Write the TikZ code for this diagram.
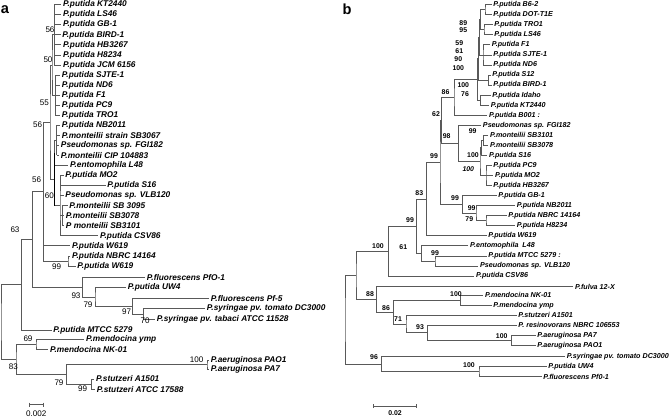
\documentclass[tikz,border=0pt]{standalone}
\usepackage{fontspec}
\newfontfamily\treefont{Liberation Sans}
\usepackage{tikz}
\usetikzlibrary{calc}

\tikzset{
  tip/.style={font=\treefont\fontsize{7.1}{8}\selectfont\bfseries\itshape, anchor=west, inner sep=1.5pt},
  tipb/.style={font=\treefont\fontsize{6.1}{7}\selectfont\bfseries\itshape, anchor=west, inner sep=1.5pt},
  boot/.style={font=\treefont\fontsize{6.9}{7}\selectfont, inner sep=0pt},
  bootb/.style={font=\treefont\fontsize{5.9}{7}\selectfont\bfseries, inner sep=0pt},
  br/.style={draw=black!65, line width=0.7pt},
}

\begin{document}
\begin{tikzpicture}[x=0.03cm, y=-0.03cm]
    \useasboundingbox (0,0) rectangle (672,418);
    \node [font=\treefont\fontsize{12.5}{13}\selectfont\bfseries] (pa) at (5,10) {a};
    \node [font=\treefont\fontsize{12.5}{13}\selectfont\bfseries] (pb) at (347,9) {b};

    % tree a, leaves
    \node [tip] (a1) at (61.2,4.7) {P.putida KT2440};
    \node [tip] (a2) at (61.2,14.75) {P.putida LS46};
    \node [tip] (a3) at (61.2,24.8) {P.putida GB-1};
    \node [tip] (a4) at (60.5,34.85) {P.putida BIRD-1};
    \node [tip] (a5) at (61.2,44.9) {P.putida HB3267};
    \node [tip] (a6) at (61.2,54.95) {P.putida H8234};
    \node [tip] (a7) at (61.2,65) {P.putida JCM 6156};
    \node [tip] (a8) at (60,75.05) {P.putida SJTE-1};
    \node [tip] (a9) at (60,85.1) {P.putida ND6};
    \node [tip] (a10) at (60,95.15) {P.putida F1};
    \node [tip] (a11) at (60,105.2) {P.putida PC9};
    \node [tip] (a12) at (60,115.25) {P.putida TRO1};
    \node [tip] (a13) at (60,125.3) {P.putida NB2011};
    \node [tip] (a14) at (60,135.35) {P.monteilii strain SB3067};
    \node [tip] (a15) at (59,145.4) {Pseudomonas sp. FGI182};
    \node [tip] (a16) at (59,155.45) {P.monteilii CIP 104883};
    \node [tip] (a17) at (68.2,165.5) {P.entomophila L48};
    \node [tip] (a18) at (63.5,175.55) {P.putida MO2};
    \node [tip] (a19) at (105.5,185.6) {P.putida S16};
    \node [tip] (a20) at (63.5,195.65) {Pseudomonas sp. VLB120};
    \node [tip] (a21) at (67.5,205.7) {P.monteilii SB 3095};
    \node [tip] (a22) at (64,215.75) {P.monteilii SB3078};
    \node [tip] (a23) at (64,225.8) {P monteilii SB3101};
    \node [tip] (a24) at (98.2,235.85) {P.putida CSV86};
    \node [tip] (a25) at (70.2,245.9) {P.putida W619};
    \node [tip] (a26) at (70.2,255.95) {P.putida NBRC 14164};
    \node [tip] (a27) at (75.5,266) {P.putida W619};
    \node [tip] (a28) at (145,277.3) {P.fluorescens PfO-1};
    \node [tip] (a29) at (126,287.3) {P.putida UW4};
    \node [tip] (a30) at (209,298.7) {P.fluorescens Pf-5};
    \node [tip] (a31) at (205,308.7) {P.syringae pv. tomato DC3000};
    \node [tip] (a32) at (155,319.3) {P.syringae pv. tabaci ATCC 11528};
    \node [tip] (a33) at (51.5,330) {P.putida MTCC 5279};
    \node [tip] (a34) at (84.2,339.3) {P.mendocina ymp};
    \node [tip] (a35) at (48.2,349.3) {P.mendocina NK-01};
    \node [tip] (a36) at (209,360) {P.aeruginosa PAO1};
    \node [tip] (a37) at (209,369.3) {P.aeruginosa PA7};
    \node [tip] (a38) at (94.2,379) {P.stutzeri A1501};
    \node [tip] (a39) at (95,389.3) {P.stutzeri ATCC 17588};

    % tree a, inner nodes
    \coordinate (aKT) at (54.3,34.85);
    \coordinate (aSJ) at (55.3,95.15);
    \coordinate (a50) at (52,65);
    \coordinate (aNB) at (56.5,140.4);
    \coordinate (aL) at (54.3,153);
    \coordinate (aSB) at (62,215.75);
    \coordinate (aMO) at (60,205.7);
    \coordinate (a60) at (54.3,179.4);
    \coordinate (a55) at (50,122.2);
    \coordinate (aW) at (68,261);
    \coordinate (a56b) at (43.3,191.6);
    \coordinate (aUW) at (95,297);
    \coordinate (a97) at (132.7,306.4);
    \coordinate (a70) at (143.3,314);
    \coordinate (a93) at (82.7,287.2);
    \coordinate (a56) at (32.3,239.4);
    \coordinate (a63) at (21.7,284.7);
    \coordinate (a69) at (36,344.3);
    \coordinate (aPA) at (207,364.7);
    \coordinate (aST) at (91.7,384.2);
    \coordinate (a79) at (66.7,374.4);
    \coordinate (a83) at (16,359.4);
    \coordinate (aroot) at (1,322);

    \foreach \i in {1,...,7} {\draw [br] (aKT |- a\i.west) -- (a\i.west);}
    \draw [br] (aKT |- a1.west) -- (aKT |- a7.west);
    \foreach \i in {8,...,12} {\draw [br] (aSJ |- a\i.west) -- (a\i.west);}
    \draw [br] (aSJ |- a8.west) -- (aSJ |- a12.west);
    \draw [br] (aKT) -| (a50) |- (aSJ);
    \foreach \i in {13,...,16} {\draw [br] (aNB |- a\i.west) -- (a\i.west);}
    \draw [br] (aNB |- a13.west) -- (aNB |- a16.west);
    \draw [br] (aNB) -| (aL) |- (a17.west);
    \foreach \i in {21,22,23} {\draw [br] (aSB |- a\i.west) -- (a\i.west);}
    \draw [br] (aSB |- a21.west) -- (aSB |- a23.west);
    \draw [br] (a18.west) -| (aMO) |- (a24.west);
    \draw [br] (aMO |- a19.west) -- (a19.west);
    \draw [br] (aMO |- a20.west) -- (a20.west);
    \draw [br] (aMO |- aSB) -- (aSB);
    \draw [br] (aL) -| (a60) |- (aMO);
    \draw [black, line width=1.1pt] (a60 |- aL) -- (a60 |- aMO);
    \draw [br] (a50) -| (a55) |- (a60);
    \draw [br] (a26.west) -| (aW) |- (a27.west);
    \draw [br] (a55) -| (a56b) |- (aW);
    \draw [br] (a56b |- a25.west) -- (a25.west);
    \draw [br] (a31.west) -| (a70) |- (a32.west);
    \draw [br] (a30.west) -| (a97) |- (a70);
    \draw [br] (a29.west) -| (aUW) |- (a97);
    \draw [br] (a28.west) -| (a93) |- (aUW);
    \draw [br] (a56b) -| (a56) |- (a93);
    \draw [br] (a56) -| (a63) |- (a33.west);
    \draw [br] (a34.west) -| (a69) |- (a35.west);
    \draw [br] (a36.west) -| (aPA) |- (a37.west);
    \draw [br] (a38.west) -| (aST) |- (a39.west);
    \draw [br] (aPA) -| (a79) |- (aST);
    \draw [br] (a69) -| (a83) |- (a79);
    \draw [br] (a63) -| (aroot) |- (a83);

    % bootstrap values a
    \node [boot] at (50,29.3) {56};
    \node [boot] at (48,60) {50};
    \node [boot] at (44.3,103) {55};
    \node [boot] at (37.7,125) {56};
    \node [boot] at (36.7,180) {56};
    \node [boot] at (49.3,196) {60};
    \node [boot] at (15,230) {63};
    \node [boot] at (56.7,266.7) {99};
    \node [boot] at (76,296) {93};
    \node [boot] at (88,305) {79};
    \node [boot] at (126.7,311.7) {97};
    \node [boot] at (145,321) {70};
    \node [boot] at (28,339) {69};
    \node [boot] at (13.3,366.7) {83};
    \node [boot] at (196.7,360) {100};
    \node [boot] at (59,382.7) {79};
    \node [boot] at (82.7,389) {99};

    % scale a
    \coordinate (sa1) at (29.3,404.7);
    \coordinate (sa2) at (43.3,404.7);
    \draw [br] (sa1) -- (sa2);
    \draw [br] ($(sa1)+(0,-2)$) -- ($(sa1)+(0,2)$);
    \draw [br] ($(sa2)+(0,-2)$) -- ($(sa2)+(0,2)$);
    \node [boot] (sca) at (36.3,413.3) {0.002};

    % tree b, leaves
    \node [tipb] (b1) at (491.5,4.7) {P.putida B6-2};
    \node [tipb] (b2) at (491.5,14.75) {P.putida DOT-T1E};
    \node [tipb] (b3) at (492.5,24.8) {P.putida TRO1};
    \node [tipb] (b4) at (492.5,34.85) {P.putida LS46};
    \node [tipb] (b5) at (490,44.9) {P.putida F1};
    \node [tipb] (b6) at (491.5,54.95) {P.putida SJTE-1};
    \node [tipb] (b7) at (491.5,65) {P.putida ND6};
    \node [tipb] (b8) at (490.5,75.05) {P.putida S12};
    \node [tipb] (b9) at (491.5,85.1) {P.putida BIRD-1};
    \node [tipb] (b10) at (490.5,95.15) {P.putida Idaho};
    \node [tipb] (b11) at (489,105.2) {P.putida KT2440};
    \node [tipb] (b12) at (487.2,115.25) {P.putida B001 :};
    \node [tipb] (b13) at (481,125.3) {Pseudomonas sp. FGI182};
    \node [tipb] (b14) at (488.2,135.35) {P.monteilii SB3101};
    \node [tipb] (b15) at (488.2,145.4) {P.monteilii SB3078};
    \node [tipb] (b16) at (487.2,155.45) {P.putida S16};
    \node [tipb] (b17) at (491.5,165.5) {P.putida PC9};
    \node [tipb] (b18) at (493.2,175.55) {P.putida MO2};
    \node [tipb] (b19) at (491.5,185.6) {P.putida HB3267};
    \node [tipb] (b20) at (496.5,195.65) {P.putida GB-1};
    \node [tipb] (b21) at (515,205.7) {P.putida NB2011};
    \node [tipb] (b22) at (506.5,215.75) {P.putida NBRC 14164};
    \node [tipb] (b23) at (515,225.8) {P.putida H8234};
    \node [tipb] (b24) at (486.5,235.85) {P.putida W619};
    \node [tipb] (b25) at (468.2,245.9) {P.entomophila\ \ L48};
    \node [tipb] (b26) at (486.5,255.95) {P.putida MTCC 5279 :};
    \node [tipb] (b27) at (478.2,266) {Pseudomonas sp. VLB120};
    \node [tipb] (b28) at (474.2,276.05) {P.putida CSV86};
    \node [tipb] (b29) at (573.2,286.7) {P.fulva 12-X};
    \node [tipb] (b30) at (483.2,295.3) {P.mendocina NK-01};
    \node [tipb] (b31) at (491.5,305.3) {P.mendocina ymp};
    \node [tipb] (b32) at (516.5,315.3) {P.stutzeri A1501};
    \node [tipb] (b33) at (516.5,325.3) {P. resinovorans NBRC 106553};
    \node [tipb] (b34) at (535.5,335.3) {P.aeruginosa PA7};
    \node [tipb] (b35) at (535.5,345.3) {P.aeruginosa PAO1};
    \node [tipb] (b36) at (565,356.7) {P.syringae pv. tomato DC3000};
    \node [tipb] (b37) at (546.5,366.7) {P.putida UW4};
    \node [tipb] (b38) at (541.5,376.7) {P.fluorescens Pf0-1};

    % tree b, inner nodes
    \coordinate (bB6) at (485,9.7);
    \coordinate (bTR) at (484,29.8);
    \coordinate (bF1) at (483,54.95);
    \coordinate (bS12) at (488.3,80);
    \coordinate (b95) at (480.5,19.8);
    \coordinate (b59) at (479.5,37.4);
    \coordinate (b90) at (478.5,58.7);
    \coordinate (bID) at (480.7,100.2);
    \coordinate (b100) at (477.3,79.4);
    \coordinate (b86) at (454,97.3);
    \coordinate (bMT) at (483.5,140.4);
    \coordinate (bS16) at (481.5,147.9);
    \coordinate (bPC) at (486,175.55);
    \coordinate (bA) at (480,161.7);
    \coordinate (b98) at (458.3,143.5);
    \coordinate (b62) at (441.7,120.4);
    \coordinate (b79) at (486,220.8);
    \coordinate (bNB) at (476,213.2);
    \coordinate (bGB) at (462.3,204.4);
    \coordinate (b99d) at (440,162.4);
    \coordinate (b83) at (426.7,199.1);
    \coordinate (bMC) at (435,261);
    \coordinate (b61) at (421.7,253.4);
    \coordinate (b99c) at (416.7,226.3);
    \coordinate (bC) at (388.3,251.2);
    \coordinate (bAE) at (511.7,340.3);
    \coordinate (b93) at (427.3,332.8);
    \coordinate (b71) at (406,324);
    \coordinate (bMD) at (460.7,300.3);
    \coordinate (b86b) at (393.3,312.2);
    \coordinate (b88) at (376.7,299.4);
    \coordinate (bX) at (356,275.3);
    \coordinate (bUW) at (479,371.7);
    \coordinate (b96) at (381.7,364.2);
    \coordinate (broot) at (345,319.8);

    \draw [br] (b1.west) -| (bB6) |- (b2.west);
    \draw [br] (b3.west) -| (bTR) |- (b4.west);
    \draw [br] (b5.west) -| (bF1) |- (b7.west);
    \draw [br] (bF1 |- b6.west) -- (b6.west);
    \draw [br] (b8.west) -| (bS12) |- (b9.west);
    \draw [br] (bB6) -| (b95) |- (bTR);
    \draw [br] (b95) -| (b59) |- (bF1);
    \draw [br] (b59) -| (b90) |- (bS12);
    \draw [br] (b10.west) -| (bID) |- (b11.west);
    \draw [br] (b90) -| (b100) |- (bID);
    \draw [br] (b100) -| (b86) |- (b12.west);
    \draw [br] (b14.west) -| (bMT) |- (b15.west);
    \draw [br] (bMT) -| (bS16) |- (b16.west);
    \draw [br] (b17.west) -| (bPC) |- (b19.west);
    \draw [br] (bPC |- b18.west) -- (b18.west);
    \draw [br] (bS16) -| (bA) |- (bPC);
    \draw [br] (b13.west) -| (b98) |- (bA);
    \draw [br] (b86) -| (b62) |- (b98);
    \draw [br] (b22.west) -| (b79) |- (b23.west);
    \draw [br] (b21.west) -| (bNB) |- (b79);
    \draw [br] (b20.west) -| (bGB) |- (bNB);
    \draw [br] (b62) -| (b99d) |- (bGB);
    \draw [br] (b99d) -| (b83) |- (b24.west);
    \draw [br] (b26.west) -| (bMC) |- (b27.west);
    \draw [br] (b25.west) -| (b61) |- (bMC);
    \draw [br] (b83) -| (b99c) |- (b61);
    \draw [br] (b99c) -| (bC) |- (b28.west);
    \draw [br] (b34.west) -| (bAE) |- (b35.west);
    \draw [br] (b33.west) -| (b93) |- (bAE);
    \draw [br] (b32.west) -| (b71) |- (b93);
    \draw [br] (b30.west) -| (bMD) |- (b31.west);
    \draw [br] (bMD) -| (b86b) |- (b71);
    \draw [br] (b29.west) -| (b88) |- (b86b);
    \draw [br] (bC) -| (bX) |- (b88);
    \draw [br] (b37.west) -| (bUW) |- (b38.west);
    \draw [br] (b36.west) -| (b96) |- (bUW);
    \draw [br] (bX) -| (broot) |- (b96);

    % bootstrap values b
    \node [bootb] at (463.3,22.7) {89};
    \node [bootb] at (463.3,30) {95};
    \node [bootb] at (459.3,42.7) {59};
    \node [bootb] at (459.3,51) {61};
    \node [bootb] at (458.3,59.5) {90};
    \node [bootb] at (458.3,68.3) {100};
    \node [bootb] at (463.3,85) {100};
    \node [bootb] at (465,94.3) {76};
    \node [bootb] at (445.5,92) {86};
    \node [bootb] at (436,114) {62};
    \node [bootb] at (446.7,136) {98};
    \node [bootb] at (472.7,131) {99};
    \node [bootb] at (473,155) {100};
    \node [bootb,font=\treefont\fontsize{5.9}{7}\selectfont\bfseries\itshape] at (468.3,169.3) {100};
    \node [bootb] at (434,156) {99};
    \node [bootb] at (419.3,192.7) {83};
    \node [bootb] at (455,198.3) {99};
    \node [bootb] at (471.7,208.3) {99};
    \node [bootb] at (469.3,219.3) {79};
    \node [bootb] at (410,220) {99};
    \node [bootb] at (403.3,247.3) {61};
    \node [bootb] at (435,253.3) {99};
    \node [bootb] at (378,246) {100};
    \node [bootb] at (370,294) {88};
    \node [bootb] at (386,307.7) {86};
    \node [bootb] at (456,294) {100};
    \node [bootb] at (398,319) {71};
    \node [bootb] at (420,327) {93};
    \node [bootb] at (501.7,335.7) {100};
    \node [bootb] at (374,357.5) {96};
    \node [bootb] at (469,365) {100};

    % scale b
    \coordinate (sb1) at (373.3,406);
    \coordinate (sb2) at (416.7,406);
    \draw [br] (sb1) -- (sb2);
    \draw [br] ($(sb1)+(0,-2)$) -- ($(sb1)+(0,2)$);
    \draw [br] ($(sb2)+(0,-2)$) -- ($(sb2)+(0,2)$);
    \node [bootb] (scb) at (395,413) {0.02};
\end{tikzpicture}
\end{document}
